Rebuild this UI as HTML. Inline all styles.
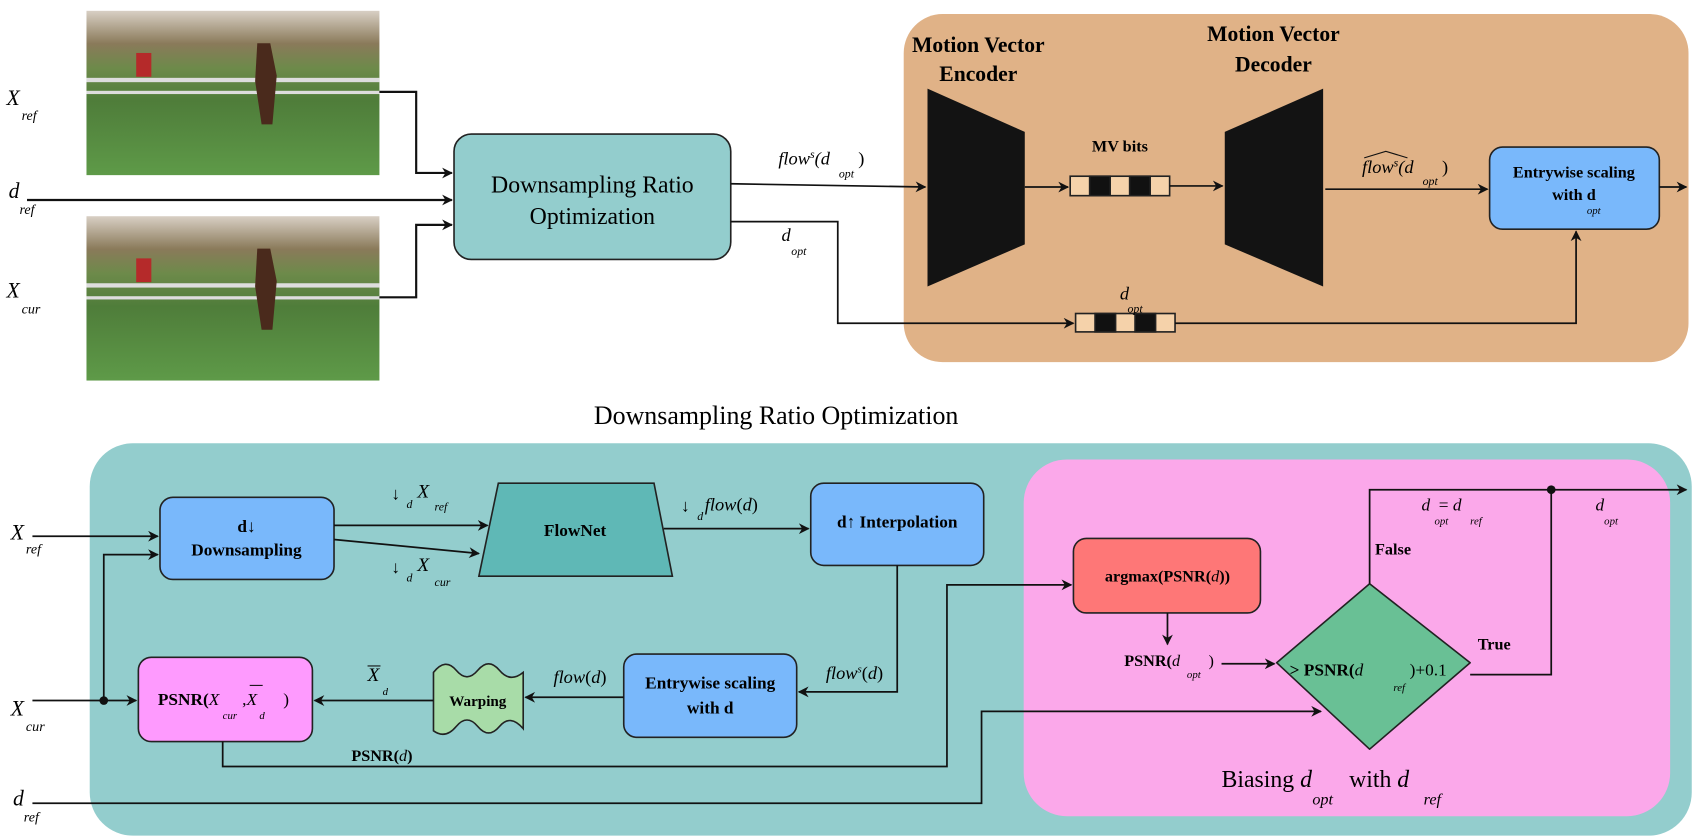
<!DOCTYPE html>
<html><head><meta charset="utf-8"><style>
html,body{margin:0;padding:0;background:#fff;}
svg{display:block;font-family:"Liberation Serif",serif;}
.i{font-style:italic;}
</style></head><body>
<svg width="1695" height="840" viewBox="0 0 1568 777" preserveAspectRatio="none" xmlns="http://www.w3.org/2000/svg">
<defs>
<marker id="a" markerWidth="10" markerHeight="10" refX="9" refY="5" orient="auto" markerUnits="userSpaceOnUse"><path d="M0,0 L10,5 L0,10 L3,5 z" fill="#111"/></marker>
<linearGradient id="img" x1="0" y1="0" x2="0" y2="1">
<stop offset="0" stop-color="#d8cfc4"/><stop offset="0.2" stop-color="#8a7a5a"/><stop offset="0.35" stop-color="#6d8a4a"/><stop offset="0.55" stop-color="#4f7d3a"/><stop offset="1" stop-color="#5e9a48"/></linearGradient>
</defs>

<g>
<rect x="80" y="10" width="271" height="152" fill="url(#img)"/>
<rect x="80" y="72" width="271" height="4" fill="#ddd"/><rect x="80" y="84" width="271" height="3" fill="#ddd"/>
<rect x="126" y="49" width="14" height="22" fill="#b52a2a"/>
<path d="M238,40 l12,0 l6,30 l-4,45 l-10,0 l-6,-40 z" fill="#4a2a1c"/>
<rect x="80" y="200" width="271" height="152" fill="url(#img)"/>
<rect x="80" y="262" width="271" height="4" fill="#ddd"/><rect x="80" y="274" width="271" height="3" fill="#ddd"/>
<rect x="126" y="239" width="14" height="22" fill="#b52a2a"/>
<path d="M238,230 l12,0 l6,30 l-4,45 l-10,0 l-6,-40 z" fill="#4a2a1c"/>
</g>

<text x="6" y="97" font-size="20" class="i">X</text><text x="20" y="111" font-size="13" class="i">ref</text>
<text x="8" y="183" font-size="20" class="i">d</text><text x="18" y="198" font-size="13" class="i">ref</text>
<text x="6" y="275" font-size="20" class="i">X</text><text x="20" y="290" font-size="13" class="i">cur</text>

<g stroke="#111" stroke-width="2" fill="none">
<path d="M351,85 H385 V160 H418" marker-end="url(#a)"/>
<path d="M25,185 H418" marker-end="url(#a)"/>
<path d="M351,275 H385 V208 H418" marker-end="url(#a)"/>
</g>

<rect x="420" y="124" width="256" height="116" rx="16" fill="#93cdcd" stroke="#222" stroke-width="1.5"/>
<text x="548" y="178" font-size="22" text-anchor="middle">Downsampling Ratio</text>
<text x="548" y="207" font-size="22" text-anchor="middle">Optimization</text>

<rect x="836" y="13" width="726" height="322" rx="36" fill="#e0b287"/>
<text x="905" y="48" font-size="20" font-weight="bold" text-anchor="middle">Motion Vector</text>
<text x="905" y="75" font-size="20" font-weight="bold" text-anchor="middle">Encoder</text>
<text x="1178" y="38" font-size="20" font-weight="bold" text-anchor="middle">Motion Vector</text>
<text x="1178" y="66" font-size="20" font-weight="bold" text-anchor="middle">Decoder</text>
<path d="M858,82 L948,122 L948,226 L858,265 z" fill="#131313"/>
<path d="M1133,122 L1224,82 L1224,265 L1133,226 z" fill="#131313"/>
<text x="1036" y="140" font-size="15" font-weight="bold" text-anchor="middle">MV bits</text>
<g stroke="#222" stroke-width="1.5">
<rect x="990" y="163" width="92" height="18" fill="#f5d2aa"/>
<rect x="1008" y="163" width="19" height="18" fill="#111"/><rect x="1045" y="163" width="19" height="18" fill="#111"/>
<rect x="995" y="290" width="92" height="17" fill="#f5d2aa"/>
<rect x="1013" y="290" width="19" height="17" fill="#111"/><rect x="1050" y="290" width="19" height="17" fill="#111"/>
</g>
<text x="1036" y="277" font-size="17" class="i">d</text><text x="1043" y="289" font-size="11" class="i">opt</text>

<text x="720" y="152" font-size="17" class="i">flow<tspan font-size="11" dy="-6">s</tspan><tspan dy="6">(d</tspan></text><text x="776" y="164" font-size="11" class="i">opt</text><text x="794" y="152" font-size="17">)</text>
<text x="723" y="223" font-size="17" class="i">d</text><text x="732" y="236" font-size="11" class="i">opt</text>
<text x="1260" y="160" font-size="17" class="i">flow<tspan font-size="11" dy="-6">s</tspan><tspan dy="6">(d</tspan></text><text x="1316" y="171" font-size="11" class="i">opt</text><text x="1334" y="160" font-size="17">)</text>
<path d="M1262,146 L1282,140 L1302,146" stroke="#111" fill="none" stroke-width="1"/>

<rect x="1378" y="136" width="157" height="76" rx="12" fill="#79b8fb" stroke="#222" stroke-width="1.5"/>
<text x="1456" y="164" font-size="15" font-weight="bold" text-anchor="middle">Entrywise scaling</text>
<text x="1456" y="185" font-size="15" font-weight="bold" text-anchor="middle">with d</text>
<text x="1468" y="198" font-size="10" class="i">opt</text>

<g stroke="#111" stroke-width="1.6" fill="none">
<path d="M676,170 L856,173" marker-end="url(#a)"/>
<path d="M676,205 H775 V299 H993" marker-end="url(#a)"/>
<path d="M948,173 H988" marker-end="url(#a)"/>
<path d="M1082,172 H1131" marker-end="url(#a)"/>
<path d="M1226,175 H1376" marker-end="url(#a)"/>
<path d="M1087,299 H1458 V214" marker-end="url(#a)"/>
<path d="M1535,173 H1560" marker-end="url(#a)"/>
</g>

<text x="718" y="392" font-size="24" text-anchor="middle">Downsampling Ratio Optimization</text>
<rect x="83" y="410" width="1482" height="363" rx="40" fill="#93cdcd"/>
<rect x="947" y="425" width="598" height="330" rx="40" fill="#fba8ea"/>

<text x="10" y="499" font-size="20" class="i">X</text><text x="24" y="512" font-size="13" class="i">ref</text>
<text x="10" y="662" font-size="20" class="i">X</text><text x="24" y="676" font-size="13" class="i">cur</text>
<text x="12" y="745" font-size="20" class="i">d</text><text x="22" y="760" font-size="13" class="i">ref</text>

<rect x="148" y="460" width="161" height="76" rx="12" fill="#79b8fb" stroke="#222" stroke-width="1.5"/>
<text x="228" y="492" font-size="16" font-weight="bold" text-anchor="middle">d↓</text>
<text x="228" y="514" font-size="16" font-weight="bold" text-anchor="middle">Downsampling</text>

<path d="M461,447 L605,447 L622,533 L443,533 z" fill="#5fb8b6" stroke="#222" stroke-width="1.5"/>
<text x="532" y="496" font-size="16" font-weight="bold" text-anchor="middle">FlowNet</text>

<rect x="750" y="447" width="160" height="76" rx="12" fill="#79b8fb" stroke="#222" stroke-width="1.5"/>
<text x="830" y="488" font-size="16" font-weight="bold" text-anchor="middle">d↑ Interpolation</text>

<rect x="577" y="605" width="160" height="77" rx="12" fill="#79b8fb" stroke="#222" stroke-width="1.5"/>
<text x="657" y="637" font-size="16" font-weight="bold" text-anchor="middle">Entrywise scaling</text>
<text x="657" y="660" font-size="16" font-weight="bold" text-anchor="middle">with d</text>

<path d="M401,622 Q412,608 422,620 T442,620 T462,620 T484,622 L484,674 Q472,660 462,672 T442,672 T422,672 T401,676 z" fill="#a8dca8" stroke="#222" stroke-width="1.5"/>
<text x="442" y="653" font-size="14" font-weight="bold" text-anchor="middle">Warping</text>

<rect x="128" y="608" width="161" height="78" rx="12" fill="#fe9afe" stroke="#222" stroke-width="1.5"/>
<text x="146" y="652" font-size="16" font-weight="bold">PSNR(<tspan class="i" font-weight="normal">X</tspan></text>
<text x="206" y="665" font-size="10" class="i">cur</text>
<text x="224" y="652" font-size="16">,<tspan class="i">X</tspan></text>
<line x1="231" y1="634" x2="243" y2="634" stroke="#111" stroke-width="1"/>
<text x="240" y="665" font-size="10" class="i">d</text>
<text x="262" y="652" font-size="16">)</text>

<text x="362" y="462" font-size="16">↓</text><text x="376" y="470" font-size="11" class="i">d</text><text x="386" y="460" font-size="18" class="i">X</text><text x="402" y="472" font-size="11" class="i">ref</text>
<text x="362" y="530" font-size="16">↓</text><text x="376" y="538" font-size="11" class="i">d</text><text x="386" y="528" font-size="18" class="i">X</text><text x="402" y="542" font-size="11" class="i">cur</text>
<text x="630" y="473" font-size="16">↓</text><text x="645" y="481" font-size="11" class="i">d</text><text x="652" y="472" font-size="17" class="i">flow<tspan font-style="normal">(</tspan>d<tspan font-style="normal">)</tspan></text>
<text x="764" y="628" font-size="17" class="i">flow<tspan font-size="10" dy="-6">s</tspan><tspan dy="6" font-style="normal">(</tspan>d<tspan font-style="normal">)</tspan></text>
<text x="512" y="632" font-size="17" class="i">flow<tspan font-style="normal">(</tspan>d<tspan font-style="normal">)</tspan></text>
<text x="340" y="630" font-size="18" class="i">X</text><line x1="340" y1="616" x2="352" y2="616" stroke="#111" stroke-width="1"/><text x="354" y="643" font-size="10" class="i">d</text>
<text x="325" y="704" font-size="15" font-weight="bold">PSNR(<tspan class="i" font-weight="normal">d</tspan>)</text>

<rect x="993" y="498" width="173" height="69" rx="12" fill="#fe7777" stroke="#222" stroke-width="1.5"/>
<text x="1080" y="538" font-size="15" font-weight="bold" text-anchor="middle">argmax(PSNR(<tspan class="i" font-weight="normal">d</tspan>))</text>

<path d="M1267,540 L1360,613 L1267,693 L1181,613 z" fill="#69c095" stroke="#222" stroke-width="1.5" stroke-linejoin="round"/>
<text x="1193" y="625" font-size="16" font-weight="bold">&gt; PSNR(<tspan class="i" font-weight="normal">d</tspan></text>
<text x="1289" y="639" font-size="10" class="i">ref</text>
<text x="1304" y="625" font-size="16">)+0.1</text>

<text x="1040" y="616" font-size="15" font-weight="bold">PSNR(<tspan class="i" font-weight="normal">d</tspan></text>
<text x="1098" y="627" font-size="10" class="i">opt</text><text x="1118" y="616" font-size="15">)</text>

<text x="1272" y="513" font-size="15" font-weight="bold">False</text>
<text x="1367" y="601" font-size="15" font-weight="bold">True</text>
<text x="1315" y="472" font-size="16" class="i">d</text><text x="1331" y="472" font-size="16">= <tspan class="i">d</tspan></text>
<text x="1327" y="485" font-size="10" class="i">opt</text><text x="1360" y="485" font-size="10" class="i">ref</text>
<text x="1476" y="472" font-size="16" class="i">d</text><text x="1484" y="485" font-size="10" class="i">opt</text>

<text x="1130" y="728" font-size="22">Biasing <tspan class="i">d</tspan></text>
<text x="1214" y="744" font-size="15" class="i">opt</text>
<text x="1248" y="728" font-size="22">with <tspan class="i">d</tspan></text>
<text x="1317" y="744" font-size="15" class="i">ref</text>

<g stroke="#111" stroke-width="1.6" fill="none">
<path d="M30,496 H146" marker-end="url(#a)"/>
<path d="M30,648 H126" marker-end="url(#a)"/>
<path d="M96,648 V513 H146" marker-end="url(#a)"/>
<path d="M309,486 H451" marker-end="url(#a)"/>
<path d="M309,499 L443,512" marker-end="url(#a)"/>
<path d="M614,489 H748" marker-end="url(#a)"/>
<path d="M830,523 V640 H739" marker-end="url(#a)"/>
<path d="M577,645 H486" marker-end="url(#a)"/>
<path d="M401,648 H291" marker-end="url(#a)"/>
<path d="M206,686 V709 H876 V541 H991" marker-end="url(#a)"/>
<path d="M1080,567 V596" marker-end="url(#a)"/>
<path d="M1130,614 H1179" marker-end="url(#a)"/>
<path d="M30,743 H908 V658 H1222" marker-end="url(#a)"/>
<path d="M1267,540 V453 H1560" marker-end="url(#a)"/>
<path d="M1360,624 H1435 V453"/>
</g>
<circle cx="96" cy="648" r="4" fill="#111"/>
<circle cx="1435" cy="453" r="4" fill="#111"/>
</svg>
</body></html>
